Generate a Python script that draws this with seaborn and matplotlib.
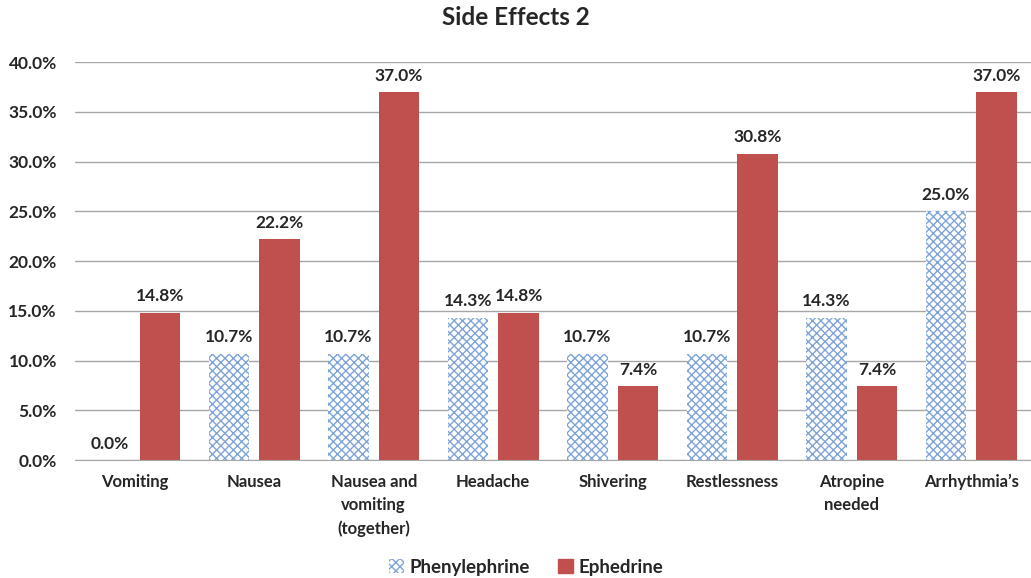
import matplotlib
matplotlib.use("Agg")
import matplotlib.pyplot as plt
from matplotlib.patches import Patch
import seaborn as sns
import pandas as pd

categories = ["Vomiting", "Nausea", "Nausea and\nvomiting\n(together)", "Headache",
              "Shivering", "Restlessness", "Atropine\nneeded", "Arrhythmia\u2019s"]
phenylephrine = [0.0, 10.7, 10.7, 14.3, 10.7, 10.7, 14.3, 25.0]
ephedrine = [14.8, 22.2, 37.0, 14.8, 7.4, 30.8, 7.4, 37.0]
groups = ["Phenylephrine", "Ephedrine"]

df = pd.DataFrame({
    "cat": categories * 2,
    "grp": [groups[0]] * 8 + [groups[1]] * 8,
    "val": [v / 100 for v in phenylephrine + ephedrine],
})

sns.set_style("white")
plt.rcParams["font.family"] = ["Lato", "DejaVu Sans"]
plt.rcParams["hatch.linewidth"] = 1.0

blue = "#7ea4d8"
red = "#c0504d"

fig = plt.figure(figsize=(10.31, 5.78), dpi=100)
ax = fig.add_axes([0.0727, 0.204, 0.9273, 0.6886])
sns.barplot(data=df, x="cat", y="val", hue="grp", order=categories, hue_order=groups,
            palette=["white", red], width=0.85, gap=0.2, legend=False, ax=ax,
            linewidth=0, saturation=1)

for bar in ax.containers[0]:
    bar.set_facecolor("white")
    bar.set_edgecolor(blue)
    bar.set_hatch("xxxx")
    bar.set_linewidth(0)

for cont in ax.containers:
    ax.bar_label(cont, labels=[f"{b.get_height()*100:.1f}%" for b in cont],
                 padding=6, fontsize=12.5, fontweight="bold")

ax.set_ylim(0, 0.4)
ax.set_xlim(-0.5, 7.5)
ax.set_yticks([i * 0.05 for i in range(9)])
ax.set_yticklabels([f"{i*5:.1f}%" for i in range(9)], fontsize=12.5, fontweight="bold")
ax.tick_params(axis="y", length=0, pad=13)
ax.tick_params(axis="x", length=0, pad=10)
for lab in ax.get_xticklabels():
    lab.set_fontweight("bold")
    lab.set_fontsize(12)
    lab.set_linespacing(1.55)
ax.set_xlabel("")
ax.set_ylabel("")
ax.grid(axis="y", color="#a6a6a6", linewidth=1)
ax.set_axisbelow(True)
for s in ["top", "right", "left"]:
    ax.spines[s].set_visible(False)
ax.spines["bottom"].set_color("#a6a6a6")

fig.suptitle("Side Effects 2", fontsize=17.5, fontweight="bold", y=0.99)

handles = [Patch(facecolor="white", edgecolor=blue, hatch="xxxx", linewidth=0),
           Patch(facecolor=red, edgecolor=red)]
fig.legend(handles, groups, loc="lower center", bbox_to_anchor=(0.51, -0.025), ncol=2,
           frameon=False, prop={"weight": "bold", "size": 13.5}, handlelength=0.8,
           handleheight=0.8, handletextpad=0.3, columnspacing=1.5)

fig.savefig("out.png", dpi=100)
